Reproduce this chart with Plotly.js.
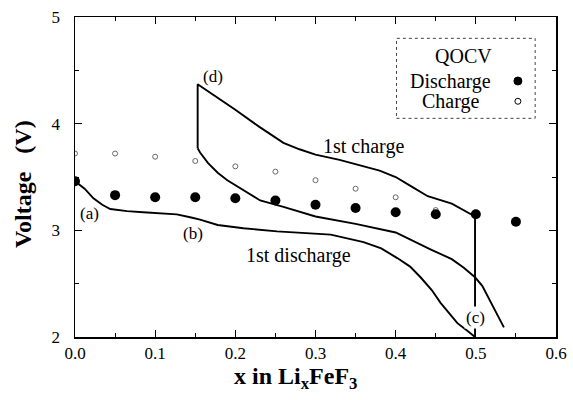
<!DOCTYPE html>
<html>
<head>
<meta charset="utf-8">
<script src="https://cdn.plot.ly/plotly-3.0.1.min.js"></script>
<style>html,body{margin:0;padding:0;background:#fff;}#chart{width:573px;height:400px;}</style>
</head>
<body>
<div id="chart"></div>
<script>
// QOCV points
var qocvX = [0.0, 0.05, 0.10, 0.15, 0.20, 0.25, 0.30, 0.35, 0.40, 0.45, 0.50, 0.55];
var qocvDischarge = [3.46, 3.33, 3.31, 3.31, 3.30, 3.28, 3.24, 3.21, 3.17, 3.15, 3.15, 3.08];
var qocvChargeX = [0.0, 0.05, 0.10, 0.15, 0.20, 0.25, 0.30, 0.35, 0.40, 0.45];
var qocvCharge = [3.72, 3.72, 3.69, 3.65, 3.60, 3.55, 3.47, 3.39, 3.31, 3.19];

// 1st discharge curve
var dis1X = [0.0, 0.012, 0.023, 0.034, 0.044, 0.065, 0.085, 0.105, 0.127, 0.145, 0.156, 0.178, 0.21, 0.252, 0.29, 0.319, 0.36, 0.382, 0.402, 0.418, 0.431, 0.445, 0.456, 0.467, 0.477, 0.489, 0.499];
var dis1Y = [3.46, 3.39, 3.30, 3.24, 3.20, 3.18, 3.17, 3.16, 3.15, 3.12, 3.10, 3.05, 3.02, 2.99, 2.97, 2.96, 2.89, 2.83, 2.74, 2.66, 2.56, 2.44, 2.32, 2.22, 2.13, 2.06, 2.00];

// 1st charge curve (from (c) up, then toward (d), then relaxation drop)
var chgX = [0.499, 0.499, 0.47, 0.44, 0.42, 0.40, 0.38, 0.356, 0.33, 0.30, 0.28, 0.26, 0.23, 0.20, 0.175, 0.153, 0.153];
var chgY = [2.00, 3.13, 3.25, 3.32, 3.41, 3.50, 3.56, 3.61, 3.66, 3.71, 3.76, 3.82, 3.97, 4.13, 4.26, 4.37, 3.77];

// subsequent discharge curve from (d)
var dis2X = [0.153, 0.156, 0.166, 0.178, 0.19, 0.2025, 0.215, 0.231, 0.26, 0.30, 0.35, 0.40, 0.444, 0.47, 0.485, 0.499, 0.508, 0.515, 0.525, 0.535];
var dis2Y = [3.77, 3.73, 3.63, 3.54, 3.47, 3.41, 3.35, 3.28, 3.22, 3.13, 3.06, 2.98, 2.82, 2.73, 2.65, 2.56, 2.48, 2.38, 2.24, 2.09];

var serif = "Liberation Serif, Times New Roman, serif";
var lineStyle = {color: "#000", width: 1.9};

var traces = [
  {x: dis1X, y: dis1Y, mode: "lines", line: lineStyle, name: "1st discharge", showlegend: false, hoverinfo: "skip"},
  {x: chgX, y: chgY, mode: "lines", line: lineStyle, name: "1st charge", showlegend: false, hoverinfo: "skip"},
  {x: dis2X, y: dis2Y, mode: "lines", line: lineStyle, name: "discharge", showlegend: false, hoverinfo: "skip"},
  {x: qocvChargeX, y: qocvCharge, mode: "markers", name: "Charge", showlegend: false,
   marker: {symbol: "circle-open", size: 5, color: "#666", line: {width: 1, color: "#666"}}},
  {x: qocvX, y: qocvDischarge, mode: "markers", name: "Discharge", showlegend: false,
   marker: {symbol: "circle", size: 10, color: "#000"}}
];

var axisCommon = {
  showgrid: false, zeroline: false, showline: true, linecolor: "#000", linewidth: 1.5,
  mirror: "ticks", ticks: "inside", ticklen: 7, tickwidth: 1.2, tickcolor: "#000",
  tickfont: {family: serif, size: 17, color: "#000"}
};

var layout = {
  width: 573, height: 400,
  margin: {l: 75, r: 17, t: 17, b: 63},
  paper_bgcolor: "#fff", plot_bgcolor: "#fff",
  showlegend: false,
  xaxis: Object.assign({}, axisCommon, {
    range: [0, 0.6], tickvals: [0, 0.1, 0.2, 0.3, 0.4, 0.5, 0.6],
    ticktext: ["0.0", "0.1", "0.2", "0.3", "0.4", "0.5", "0.6"],
    ticklabelstandoff: 0,
    minor: {ticks: "inside", tickvals: [0.05, 0.15, 0.25, 0.35, 0.45, 0.55], ticklen: 4, tickcolor: "#000", tickwidth: 1}
  }),
  yaxis: Object.assign({}, axisCommon, {
    range: [2, 5], tickvals: [2, 3, 4, 5],
    ticklabelstandoff: 10,
    minor: {ticks: "inside", tickvals: [2.5, 3.5, 4.5], ticklen: 4, tickcolor: "#000", tickwidth: 1}
  }),
  shapes: [
    {type: "rect", xref: "x", yref: "y", x0: 0.401, x1: 0.574, y0: 4.05, y1: 4.80,
     line: {color: "#444", width: 1, dash: "dot"}, fillcolor: "rgba(0,0,0,0)"},
    {type: "circle", xref: "x", yref: "y", xsizemode: "pixel", ysizemode: "pixel",
     xanchor: 0.5525, yanchor: 4.40, x0: -4, x1: 4, y0: -4, y1: 4,
     fillcolor: "#000", line: {color: "#000", width: 1}},
    {type: "circle", xref: "x", yref: "y", xsizemode: "pixel", ysizemode: "pixel",
     xanchor: 0.5525, yanchor: 4.21, x0: -3, x1: 3, y0: -3, y1: 3,
     fillcolor: "rgba(0,0,0,0)", line: {color: "#000", width: 1}}
  ],
  annotations: [
    {xref: "paper", yref: "paper", x: 0.459, y: -0.127, yanchor: "middle",
     text: "<b>x in Li<sub>x</sub>FeF<sub>3</sub></b>", showarrow: false,
     font: {family: serif, size: 24, color: "#000"}},
    {xref: "paper", yref: "paper", x: -0.108, y: 0.478, xanchor: "center", yanchor: "middle", textangle: -90,
     text: "<b>Voltage&nbsp;&nbsp;&nbsp;(V)</b>", showarrow: false,
     font: {family: serif, size: 24, color: "#000"}},
    {x: 0.485, y: 4.63, text: "QOCV", showarrow: false, font: {family: serif, size: 20, color: "#000"}},
    {x: 0.469, y: 4.40, text: "Discharge", showarrow: false, font: {family: serif, size: 20, color: "#000"}},
    {x: 0.469, y: 4.21, text: "Charge", showarrow: false, font: {family: serif, size: 20, color: "#000"}},
    {x: 0.0175, y: 3.16, text: "(a)", showarrow: false, font: {family: serif, size: 17, color: "#000"}},
    {x: 0.1475, y: 2.97, text: "(b)", showarrow: false, font: {family: serif, size: 17, color: "#000"}},
    {x: 0.5, y: 2.18, text: "(c)", showarrow: false, bgcolor: "#fff", font: {family: serif, size: 17, color: "#000"}},
    {x: 0.1725, y: 4.44, text: "(d)", showarrow: false, font: {family: serif, size: 17, color: "#000"}},
    {x: 0.36, y: 3.79, text: "1st charge", showarrow: false, font: {family: serif, size: 20, color: "#000"}},
    {x: 0.279, y: 2.76, text: "1st discharge", showarrow: false, font: {family: serif, size: 20, color: "#000"}}
  ]
};

Plotly.newPlot("chart", traces, layout, {staticPlot: true, displayModeBar: false});
</script>
</body>
</html>
